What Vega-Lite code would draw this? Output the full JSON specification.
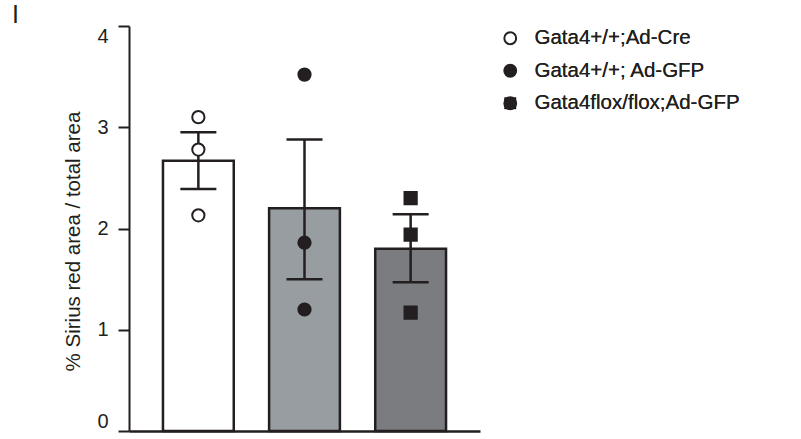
{
  "$schema": "https://vega.github.io/schema/vega-lite/v6.json",
  "width": 351,
  "height": 405,
  "autosize": {"type": "none"},
  "padding": {"left": 129, "top": 26, "right": 321, "bottom": 8},
  "background": "white",
  "config": {
    "view": {"stroke": null},
    "font": "Liberation Sans",
    "axis": {"grid": false, "domainColor": "#231f20", "tickColor": "#231f20", "labelColor": "#231f20", "titleColor": "#231f20"},
    "legend": {"orient": "none", "legendX": 371, "legendY": 2, "labelFontSize": 20.5, "labelColor": "#231f20", "symbolSize": 140, "symbolStrokeWidth": 2, "symbolStrokeColor": "#231f20", "rowPadding": 11.5, "labelOffset": 14, "labelLimit": 400}
  },
  "title": {"text": "I", "anchor": "start", "frame": "group", "fontSize": 25, "fontWeight": "normal", "color": "#231f20", "baseline": "top", "dx": -117, "offset": -3},
  "datasets": {
    "bars": [
      {"group": "Gata4+/+;Ad-Cre", "mean": 2.67, "lo": 2.39, "hi": 2.95},
      {"group": "Gata4+/+; Ad-GFP", "mean": 2.20, "lo": 1.50, "hi": 2.88},
      {"group": "Gata4flox/flox;Ad-GFP", "mean": 1.80, "lo": 1.47, "hi": 2.14}
    ],
    "points": [
      {"group": "Gata4+/+;Ad-Cre", "value": 3.10},
      {"group": "Gata4+/+;Ad-Cre", "value": 2.78},
      {"group": "Gata4+/+;Ad-Cre", "value": 2.13},
      {"group": "Gata4+/+; Ad-GFP", "value": 3.52},
      {"group": "Gata4+/+; Ad-GFP", "value": 1.86},
      {"group": "Gata4+/+; Ad-GFP", "value": 1.20},
      {"group": "Gata4flox/flox;Ad-GFP", "value": 2.30},
      {"group": "Gata4flox/flox;Ad-GFP", "value": 1.94},
      {"group": "Gata4flox/flox;Ad-GFP", "value": 1.17}
    ]
  },
  "encoding": {
    "x": {"field": "group", "type": "nominal", "sort": ["Gata4+/+;Ad-Cre", "Gata4+/+; Ad-GFP", "Gata4flox/flox;Ad-GFP"],
      "scale": {"paddingInner": 0.333, "paddingOuter": 0.32},
      "axis": {"title": null, "labels": false, "ticks": false, "domainWidth": 2.5}}
  },
  "layer": [
    {
      "data": {"name": "bars"},
      "mark": {"type": "bar", "stroke": "#231f20", "strokeWidth": 2.5},
      "encoding": {
        "y": {"field": "mean", "type": "quantitative", "scale": {"domain": [0, 4]},
          "axis": {"title": "% Sirius red area / total area", "values": [0, 1, 2, 3, 4], "format": "d", "labelFlush": true, "titleFontSize": 20.5, "titleFontWeight": "normal", "titleY": 215, "labelFontSize": 20, "tickSize": 11, "tickWidth": 2, "domainWidth": 2, "labelPadding": 10, "titlePadding": 13}},
        "fill": {"field": "group", "type": "nominal", "sort": ["Gata4+/+;Ad-Cre", "Gata4+/+; Ad-GFP", "Gata4flox/flox;Ad-GFP"], "scale": {"range": ["#ffffff", "#989da1", "#7b7c80"]}, "legend": null}
      }
    },
    {
      "data": {"name": "bars"},
      "mark": {"type": "rule", "color": "#231f20", "strokeWidth": 2.5},
      "encoding": {"y": {"field": "lo", "type": "quantitative"}, "y2": {"field": "hi"}}
    },
    {
      "data": {"name": "bars"},
      "mark": {"type": "tick", "color": "#231f20", "size": 36, "thickness": 2.5, "opacity": 1},
      "encoding": {"y": {"field": "lo", "type": "quantitative"}}
    },
    {
      "data": {"name": "bars"},
      "mark": {"type": "tick", "color": "#231f20", "size": 36, "thickness": 2.5, "opacity": 1},
      "encoding": {"y": {"field": "hi", "type": "quantitative"}}
    },
    {
      "data": {"name": "points"},
      "mark": {"type": "point", "stroke": "#231f20", "strokeWidth": 2, "opacity": 1},
      "encoding": {
        "y": {"field": "value", "type": "quantitative"},
        "shape": {"field": "group", "type": "nominal", "sort": ["Gata4+/+;Ad-Cre", "Gata4+/+; Ad-GFP", "Gata4flox/flox;Ad-GFP"], "scale": {"range": ["circle", "circle", "square"]}, "legend": {"title": null}},
        "fill": {"field": "group", "type": "nominal", "sort": ["Gata4+/+;Ad-Cre", "Gata4+/+; Ad-GFP", "Gata4flox/flox;Ad-GFP"], "scale": {"range": ["#ffffff", "#231f20", "#231f20"]}, "legend": {"title": null}},
        "size": {"value": 150}
      }
    }
  ],
  "resolve": {"scale": {"fill": "independent"}}
}
